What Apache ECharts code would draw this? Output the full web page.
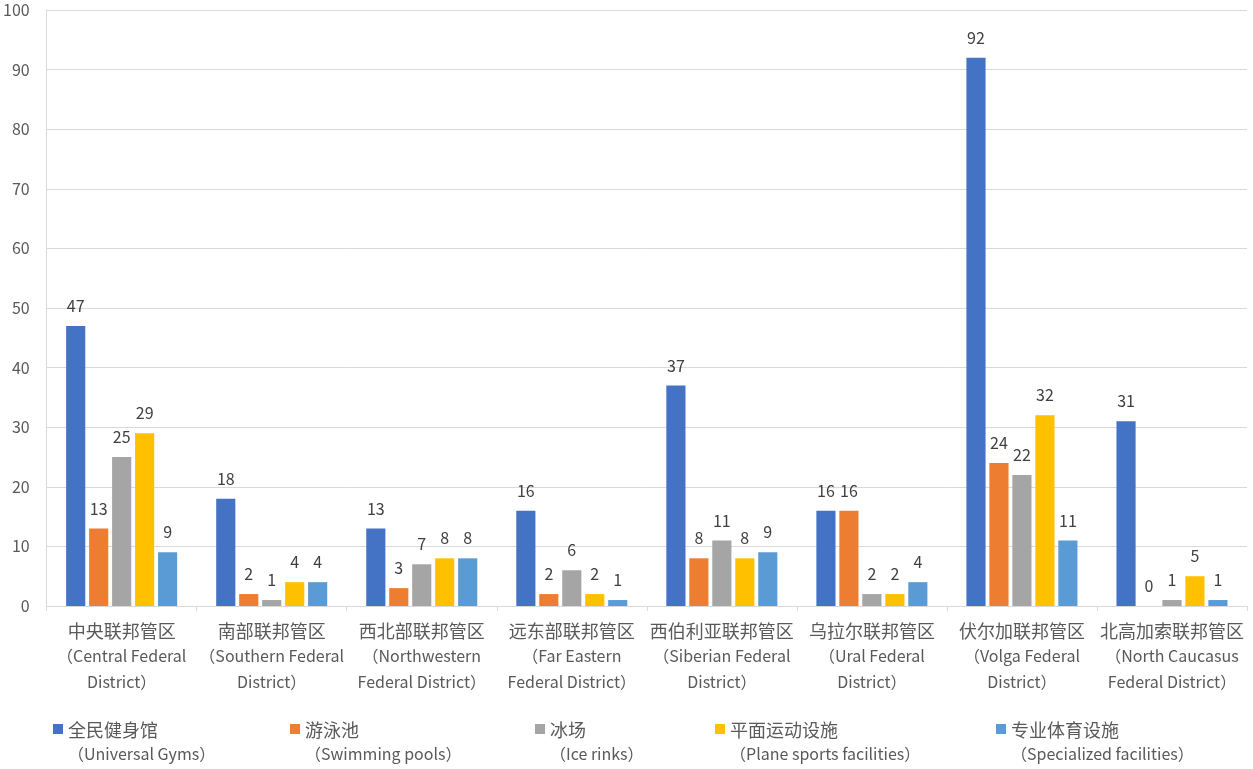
<!DOCTYPE html>
<html>
<head>
<meta charset="utf-8">
<script src="https://cdn.jsdelivr.net/npm/echarts@6/dist/echarts.min.js"></script>
<style>
  html, body { margin: 0; padding: 0; background: #fff; }
  #chart { width: 1253px; height: 769px; }
</style>
</head>
<body>
<div id="chart"></div>
<script>
// categories (Chinese name + English name)
var districtsCn = ['中央联邦管区', '南部联邦管区', '西北部联邦管区', '远东部联邦管区',
  '西伯利亚联邦管区', '乌拉尔联邦管区', '伏尔加联邦管区', '北高加索联邦管区'];
var districtsEn = ['（Central Federal\nDistrict）', '（Southern Federal\nDistrict）',
  '（Northwestern\nFederal District）', '（Far Eastern\nFederal District）',
  '（Siberian Federal\nDistrict）', '（Ural Federal\nDistrict）',
  '（Volga Federal\nDistrict）', '（North Caucasus\nFederal District）'];

// series names
var facilityCn = ['全民健身馆', '游泳池', '冰场', '平面运动设施', '专业体育设施'];
var facilityEn = ['（Universal Gyms）', '（Swimming pools）', '（Ice rinks）',
  '（Plane sports facilities）', '（Specialized facilities）'];

// values per facility type
var universalGyms = [47, 18, 13, 16, 37, 16, 92, 31];
var swimmingPools = [13, 2, 3, 2, 8, 16, 24, 0];
var iceRinks = [25, 1, 7, 6, 11, 2, 22, 1];
var planeSports = [29, 4, 8, 2, 8, 2, 32, 5];
var specialized = [9, 4, 8, 1, 9, 4, 11, 1];

var yTicks = { min: 0, max: 100, interval: 10 };

var colors = ['#4472C4', '#ED7D31', '#A5A5A5', '#FFC000', '#5B9BD5'];
var allValues = [universalGyms, swimmingPools, iceRinks, planeSports, specialized];
var legendLeft = [53, 290, 535, 715, 996];

var font = '"Noto Sans CJK SC", "Noto Sans", sans-serif';
var textColor = '#595959';

var categories = districtsCn.map(function (cn, i) {
  return cn + '\n' + districtsEn[i];
});

var series = facilityCn.map(function (name, i) {
  return {
    type: 'bar',
    name: name,
    data: allValues[i],
    barGap: '20%',
    barCategoryGap: '26%',
    itemStyle: { color: colors[i] },
    label: {
      show: true,
      position: 'top',
      distance: 12,
      color: '#404040',
      fontSize: 16,
      fontFamily: font
    }
  };
});

// one legend per entry so each can sit where the original puts it
var legends = facilityCn.map(function (name, i) {
  return {
    data: [name],
    left: legendLeft[i],
    top: 721,
    padding: 0,
    itemWidth: 10,
    itemHeight: 36,
    itemGap: 0,
    icon: 'path://M0,0h10v10h-10z M0,36h0.01',
    formatter: function (n) {
      return '{cn|' + n + '}\n{en|' + facilityEn[facilityCn.indexOf(n)] + '}';
    },
    textStyle: {
      padding: [0, 0, 0, 0],
      rich: {
        cn: { fontSize: 18, lineHeight: 24, color: textColor, fontFamily: font },
        en: { fontSize: 16, lineHeight: 24, color: textColor, fontFamily: font }
      }
    }
  };
});

var chart = echarts.init(document.getElementById('chart'));
chart.setOption({
  animation: false,
  textStyle: { fontFamily: font },
  grid: { left: 44, right: 6, top: 10, bottom: 163, containLabel: false },
  legend: legends,
  xAxis: {
    type: 'category',
    data: categories,
    axisLine: { lineStyle: { color: '#D9D9D9', width: 1 } },
    axisTick: { show: true, length: 5, lineStyle: { color: '#D9D9D9' } },
    axisLabel: {
      interval: 0,
      margin: 12,
      formatter: function (v) {
        var lines = v.split('\n');
        return lines.map(function (l, k) {
          return (k === 0 ? '{cn|' : '{en|') + l + '}';
        }).join('\n');
      },
      rich: {
        cn: { fontSize: 18, lineHeight: 25.5, color: textColor, fontFamily: font },
        en: { fontSize: 16, lineHeight: 25.5, color: textColor, fontFamily: font }
      }
    }
  },
  yAxis: {
    type: 'value',
    min: yTicks.min,
    max: yTicks.max,
    interval: yTicks.interval,
    axisLine: { show: true, lineStyle: { color: '#D9D9D9' } },
    axisTick: { show: false },
    splitLine: { lineStyle: { color: '#D9D9D9' } },
    axisLabel: { color: textColor, fontSize: 16, margin: 17, fontFamily: font }
  },
  series: series
});
</script>
</body>
</html>
